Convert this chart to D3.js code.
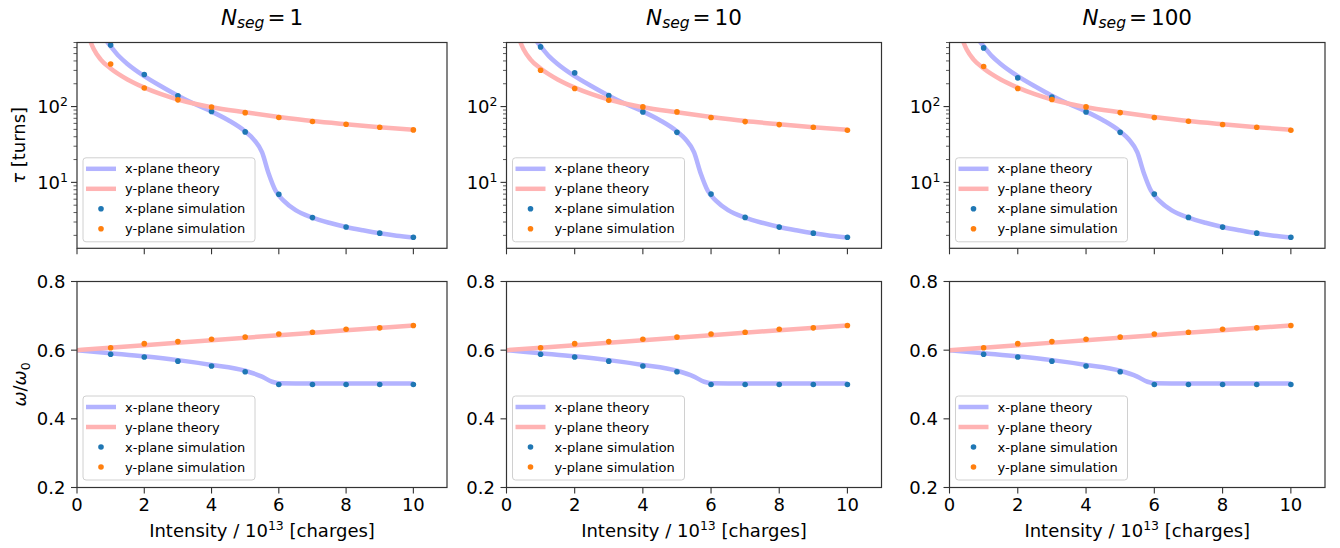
<!DOCTYPE html>
<html>
<head>
<meta charset="utf-8">
<script src="https://cdnjs.cloudflare.com/ajax/libs/d3/7.8.5/d3.min.js"></script>
<style>
body { margin: 0; background: #fff; }
text { font-family: "DejaVu Sans", sans-serif; fill: #000; }
</style>
</head>
<body>
<div class="wrapper"></div>
<script>

// ---- data ----
const panelTitles = ['1', '10', '100'];
const xTicks = [0, 2, 4, 6, 8, 10];
const tauMajor = [10, 100];
const tauMinor = [2, 3, 4, 5, 6, 7, 8, 9, 20, 30, 40, 50, 60, 70, 80, 90, 200, 300, 400, 500, 600, 700];
const omegaTicks = [0.2, 0.4, 0.6, 0.8];
const legendLabels = ['x-plane theory', 'y-plane theory', 'x-plane simulation', 'y-plane simulation'];

const simX = [1, 2, 3, 4, 5, 6, 7, 8, 9, 10];

// theory curves [intensity, value]
const tauTheoryX = [[0.75, 900], [0.85, 760], [1, 625], [1.25, 460], [1.5, 365], [2, 252], [2.5, 185], [3, 139], [3.5, 108], [4, 86], [4.5, 66], [5, 47], [5.25, 37], [5.5, 25], [5.7, 13], [5.9, 7.8], [6.15, 5.7], [6.5, 4.3], [7, 3.43], [7.5, 2.93], [8, 2.58], [8.5, 2.33], [9, 2.13], [9.5, 1.98], [10, 1.88]];
const tauTheoryY = [[0.33, 900], [0.4, 720], [0.5, 570], [0.7, 420], [1, 318], [1.5, 228], [2, 178], [2.5, 146], [3, 124], [3.5, 109], [4, 98], [5, 84], [6, 73], [7, 64.5], [8, 58.5], [9, 53.5], [10, 49.5]];
const omegaTheoryX = [[0, 0.6], [1, 0.591], [2, 0.582], [3, 0.571], [4, 0.557], [5, 0.54], [5.5, 0.523], [5.8, 0.508], [6, 0.504], [7, 0.503], [8, 0.503], [9, 0.503], [10, 0.503]];
const omegaTheoryY = [[0, 0.6], [2, 0.6145], [4, 0.629], [6, 0.6435], [8, 0.658], [10, 0.672]];

// simulation points, one row per panel
const tauSimX = [
	[647, 265, 139, 86, 46.3, 6.97, 3.43, 2.58, 2.14, 1.89],
	[612, 278, 140, 85, 45.7, 7.0, 3.45, 2.57, 2.14, 1.89],
	[594, 239, 134, 85, 45.7, 7.0, 3.45, 2.57, 2.14, 1.89]
];
const tauSimY = [
	[365, 176, 122.6, 98.8, 83.1, 71.9, 63.5, 58.5, 53.3, 49.2],
	[302, 173, 121, 99, 85, 71.6, 63.3, 57.8, 53.3, 48.6],
	[337, 173, 124, 99, 83.3, 71.6, 64, 58, 53.3, 48.6]
];
const omegaSimX = [0.588, 0.580, 0.568, 0.554, 0.537, 0.5, 0.5, 0.5, 0.5, 0.5];
const omegaSimY = [0.607, 0.619, 0.625, 0.632, 0.638, 0.647, 0.652, 0.661, 0.665, 0.672];

// ---- layout ----
const panels = [
	{left: 77, right: 447},
	{left: 506.5, right: 881.5},
	{left: 949.5, right: 1325}
];
const topBox = {top: 42.5, bottom: 248.3};
const botBox = {top: 281.5, bottom: 487.5};

const colXLine = '#b3b3ff';
const colYLine = '#ffb3b3';
const colXDot = '#1f77b4';
const colYDot = '#ff7f0e';

const svg = d3.select('.wrapper').append('svg')
.attr('width', 1340)
.attr('height', 548);

const defs = svg.append('defs');

const drawLegend = (g, left, bottom) => {
	const w = 172, h = 84;
	const top = bottom - h;
	g.append('rect')
	.attr('x', left).attr('y', top)
	.attr('width', w).attr('height', h)
	.attr('rx', 3)
	.attr('fill', 'rgba(255,255,255,0.8)')
	.attr('stroke', '#d0d0d0')
	.attr('stroke-width', 1);

	legendLabels.forEach((label, k) => {
		const cy = top + 11 + k * 20;
		if (k < 2) {
			g.append('line')
			.attr('x1', left + 3).attr('x2', left + 33)
			.attr('y1', cy).attr('y2', cy)
			.attr('stroke', k == 0 ? colXLine : colYLine)
			.attr('stroke-width', 4.5);
		} else {
			g.append('circle')
			.attr('cx', left + 18).attr('cy', cy)
			.attr('r', 2.8)
			.attr('fill', k == 2 ? colXDot : colYDot);
		}
		g.append('text')
		.attr('x', left + 42).attr('y', cy)
		.attr('dy', '0.36em')
		.style('font-size', '13px')
		.text(label);
	});
}

const drawFrame = (g, p, box) => {
	g.append('rect')
	.attr('x', p.left).attr('y', box.top)
	.attr('width', p.right - p.left).attr('height', box.bottom - box.top)
	.attr('fill', 'none')
	.attr('stroke', '#333')
	.attr('stroke-width', 1.2);
}

const xTickMarks = (g, x, box) => {
	g.selectAll('.xt')
	.data(xTicks)
	.enter()
	.append('line')
	.attr('x1', d => x(d)).attr('x2', d => x(d))
	.attr('y1', box.bottom).attr('y2', box.bottom + 6)
	.attr('stroke', '#333')
	.attr('stroke-width', 1.1);
}

panels.forEach((p, i) => {

	const x = d3.scaleLinear().domain([0, 11]).range([p.left, p.right]);
	const yTau = d3.scaleLog().domain([1.35, 700]).range([topBox.bottom, topBox.top]);
	const yOmega = d3.scaleLinear().domain([0.2, 0.8]).range([botBox.bottom, botBox.top]);

	defs.append('clipPath').attr('id', 'clipTop' + i)
	.append('rect')
	.attr('x', p.left).attr('y', topBox.top)
	.attr('width', p.right - p.left).attr('height', topBox.bottom - topBox.top);

	defs.append('clipPath').attr('id', 'clipBot' + i)
	.append('rect')
	.attr('x', p.left).attr('y', botBox.top)
	.attr('width', p.right - p.left).attr('height', botBox.bottom - botBox.top);

	// title, mathtext style N_seg = n
	const title = svg.append('text')
	.attr('x', (p.left + p.right) / 2)
	.attr('y', 24.5)
	.attr('text-anchor', 'middle')
	.style('font-size', '21.5px');
	title.append('tspan').style('font-style', 'italic').text('N');
	title.append('tspan').style('font-style', 'italic').style('font-size', '15.5px').attr('dy', '3.5').text('seg');
	title.append('tspan').attr('dy', '-3.5').attr('dx', '3').text('=');
	title.append('tspan').attr('dx', '4').text(panelTitles[i]);

	// ---------- top: tau ----------
	const top = svg.append('g');
	const tauLine = d3.line()
	.x(d => x(d[0]))
	.y(d => yTau(d[1]))
	.curve(d3.curveMonotoneX);

	const topPlot = top.append('g').attr('clip-path', 'url(#clipTop' + i + ')');

	topPlot.append('path')
	.datum(tauTheoryX)
	.attr('d', tauLine)
	.attr('fill', 'none')
	.attr('stroke', colXLine)
	.attr('stroke-width', 4.5);

	topPlot.append('path')
	.datum(tauTheoryY)
	.attr('d', tauLine)
	.attr('fill', 'none')
	.attr('stroke', colYLine)
	.attr('stroke-width', 4.5);

	topPlot.selectAll('.dx')
	.data(simX.map((v, k) => [v, tauSimX[i][k]]))
	.enter()
	.append('circle')
	.attr('cx', d => x(d[0]))
	.attr('cy', d => yTau(d[1]))
	.attr('r', 2.8)
	.attr('fill', colXDot);

	topPlot.selectAll('.dy')
	.data(simX.map((v, k) => [v, tauSimY[i][k]]))
	.enter()
	.append('circle')
	.attr('cx', d => x(d[0]))
	.attr('cy', d => yTau(d[1]))
	.attr('r', 2.8)
	.attr('fill', colYDot);

	drawLegend(top, p.left + 6, topBox.bottom - 6.5);
	drawFrame(top, p, topBox);
	xTickMarks(top, x, topBox);

	top.selectAll('.minor')
	.data(tauMinor)
	.enter()
	.append('line')
	.attr('x1', p.left).attr('x2', p.left - 3.5)
	.attr('y1', d => yTau(d)).attr('y2', d => yTau(d))
	.attr('stroke', '#333')
	.attr('stroke-width', 0.8);

	top.selectAll('.major')
	.data(tauMajor)
	.enter()
	.append('line')
	.attr('x1', p.left).attr('x2', p.left - 6)
	.attr('y1', d => yTau(d)).attr('y2', d => yTau(d))
	.attr('stroke', '#333')
	.attr('stroke-width', 1.1);

	tauMajor.forEach(d => {
		const t = top.append('text')
		.attr('x', p.left - 9)
		.attr('y', yTau(d))
		.attr('dy', '0.36em')
		.attr('text-anchor', 'end')
		.style('font-size', '18px');
		t.append('tspan').text('10');
		t.append('tspan').style('font-size', '12.5px').attr('dy', '-7').text(Math.round(Math.log10(d)));
	});

	// ---------- bottom: omega ----------
	const bot = svg.append('g');
	const omegaLine = d3.line()
	.x(d => x(d[0]))
	.y(d => yOmega(d[1]))
	.curve(d3.curveMonotoneX);

	const botPlot = bot.append('g').attr('clip-path', 'url(#clipBot' + i + ')');

	botPlot.append('path')
	.datum(omegaTheoryX)
	.attr('d', omegaLine)
	.attr('fill', 'none')
	.attr('stroke', colXLine)
	.attr('stroke-width', 4.5);

	botPlot.append('path')
	.datum(omegaTheoryY)
	.attr('d', omegaLine)
	.attr('fill', 'none')
	.attr('stroke', colYLine)
	.attr('stroke-width', 4.5);

	botPlot.selectAll('.dx')
	.data(simX.map((v, k) => [v, omegaSimX[k]]))
	.enter()
	.append('circle')
	.attr('cx', d => x(d[0]))
	.attr('cy', d => yOmega(d[1]))
	.attr('r', 2.8)
	.attr('fill', colXDot);

	botPlot.selectAll('.dy')
	.data(simX.map((v, k) => [v, omegaSimY[k]]))
	.enter()
	.append('circle')
	.attr('cx', d => x(d[0]))
	.attr('cy', d => yOmega(d[1]))
	.attr('r', 2.8)
	.attr('fill', colYDot);

	drawLegend(bot, p.left + 6, botBox.bottom - 7.5);
	drawFrame(bot, p, botBox);
	xTickMarks(bot, x, botBox);

	bot.selectAll('.yt')
	.data(omegaTicks)
	.enter()
	.append('line')
	.attr('x1', p.left).attr('x2', p.left - 6)
	.attr('y1', d => yOmega(d)).attr('y2', d => yOmega(d))
	.attr('stroke', '#333')
	.attr('stroke-width', 1.1);

	bot.selectAll('.ytl')
	.data(omegaTicks)
	.enter()
	.append('text')
	.attr('x', p.left - 11.5)
	.attr('y', d => yOmega(d))
	.attr('dy', '0.36em')
	.attr('text-anchor', 'end')
	.style('font-size', '18px')
	.text(d => d.toFixed(1));

	bot.selectAll('.xtl')
	.data(xTicks)
	.enter()
	.append('text')
	.attr('x', d => x(d))
	.attr('y', 510.5)
	.attr('text-anchor', 'middle')
	.style('font-size', '18px')
	.text(d => d);

	const xl = bot.append('text')
	.attr('x', (p.left + p.right) / 2)
	.attr('y', 537)
	.attr('text-anchor', 'middle')
	.style('font-size', '18px');
	xl.append('tspan').text('Intensity / 10');
	xl.append('tspan').style('font-size', '12.5px').attr('dy', '-7').text('13');
	xl.append('tspan').attr('dy', '7').text(' [charges]');

	if (i == 0) {
		const tl = svg.append('text')
		.attr('transform', 'translate(25,' + ((topBox.top + topBox.bottom) / 2) + ') rotate(-90)')
		.attr('text-anchor', 'middle')
		.style('font-size', '18px');
		tl.append('tspan').style('font-style', 'italic').text('τ');
		tl.append('tspan').text(' [turns]');

		const ol = svg.append('text')
		.attr('transform', 'translate(26,' + ((botBox.top + botBox.bottom) / 2) + ') rotate(-90)')
		.attr('text-anchor', 'middle')
		.style('font-size', '18px');
		ol.append('tspan').style('font-style', 'italic').text('ω');
		ol.append('tspan').text('/');
		ol.append('tspan').style('font-style', 'italic').text('ω');
		ol.append('tspan').style('font-size', '12.5px').attr('dy', '4').text('0');
	}
});

</script>
</body>
</html>
